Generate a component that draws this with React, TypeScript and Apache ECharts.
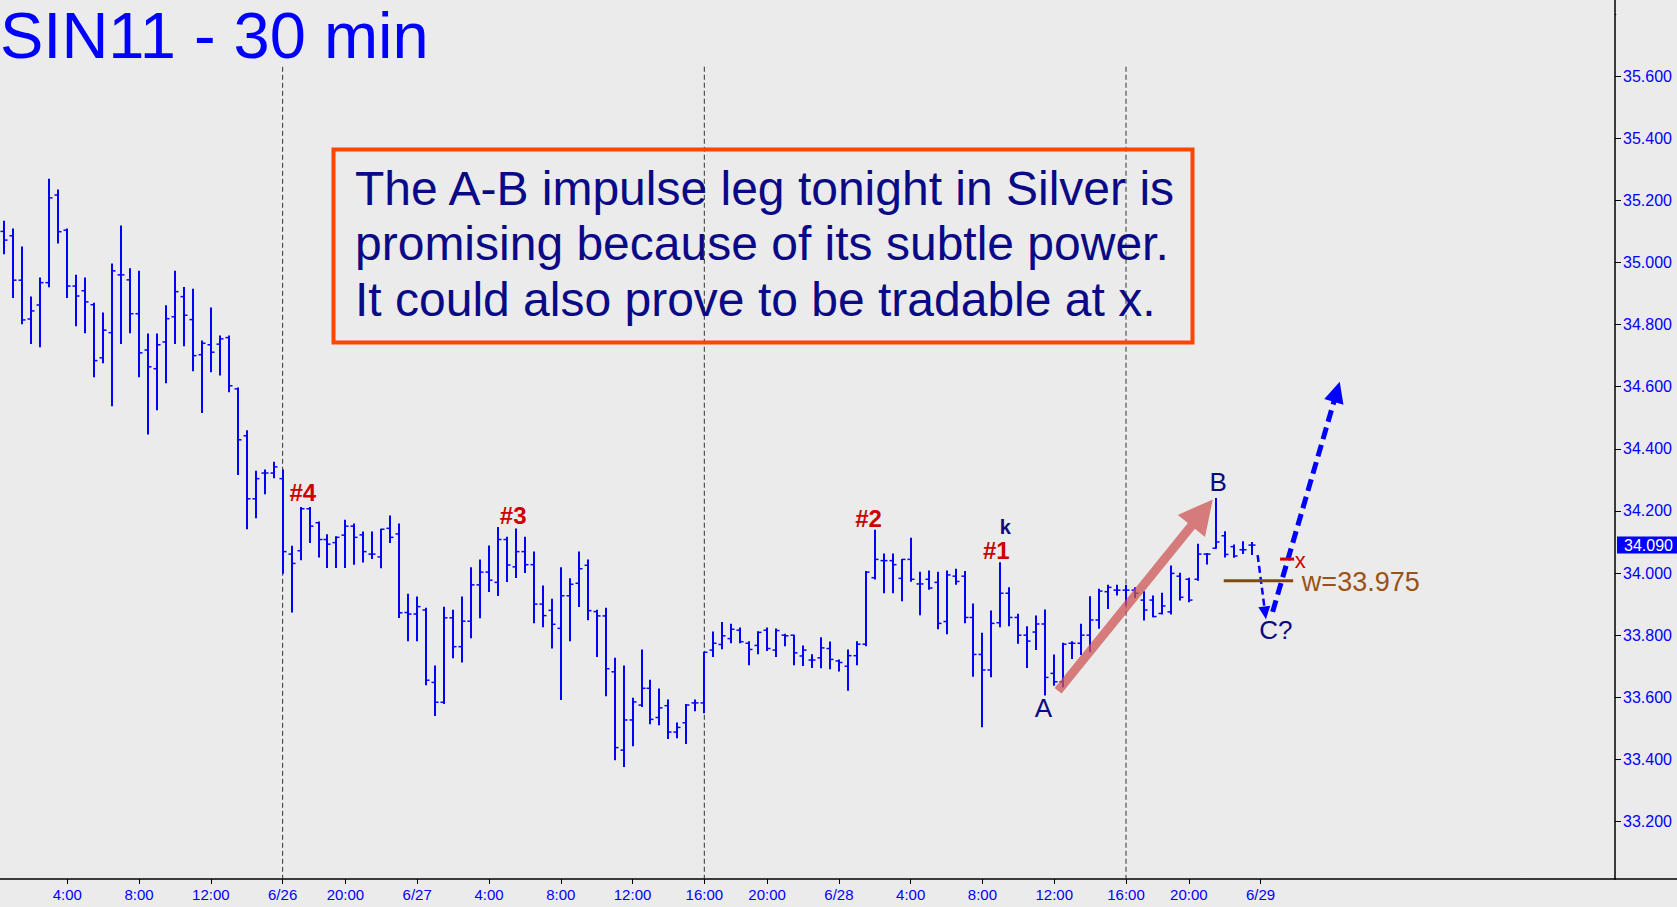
import React, { useEffect, useRef } from 'react';
import * as echarts from 'echarts';

// ---- data (30-min OHLC bars) ----
const opens = [
  35.100, 35.086, 34.943, 34.818, 34.863, 34.935, 35.217, 35.104, 34.924, 34.909,
  34.864, 34.693, 34.774, 34.960, 34.944, 34.835, 34.718, 34.658, 34.744, 34.825,
  34.890, 34.816, 34.703, 34.735, 34.737, 34.758, 34.593, 34.442, 34.239, 34.322,
  34.322, 34.304, 34.061, 34.072, 34.207, 34.162, 34.108, 34.098, 34.122, 34.151,
  34.123, 34.061, 34.052, 34.144, 34.126, 33.873, 33.868, 33.881, 33.648, 33.584,
  33.856, 33.763, 33.845, 33.962, 34.003, 33.970, 34.108, 34.020, 34.069, 34.027,
  33.900, 33.880, 33.822, 33.927, 33.967, 34.025, 33.876, 33.862, 33.682, 33.430,
  33.527, 33.575, 33.629, 33.535, 33.573, 33.488, 33.518, 33.582, 33.582, 33.752,
  33.770, 33.789, 33.816, 33.774, 33.767, 33.816, 33.752, 33.800, 33.800, 33.733,
  33.720, 33.727, 33.757, 33.717, 33.700, 33.734, 33.771, 33.985, 34.040, 34.040,
  33.983, 34.044, 33.965, 33.980, 33.970, 33.844, 33.990, 33.990, 33.857, 33.738,
  33.688, 33.840, 33.935, 33.857, 33.800, 33.810, 33.836, 33.677, 33.650, 33.774,
  33.774, 33.800, 33.849, 33.940, 33.945, 33.945, 33.945, 33.913, 33.913, 33.870,
  33.875, 33.990, 33.980, 33.980, 34.061, 34.080, 34.120, 34.085, 34.075, 34.090
];
const highs = [
  35.133, 35.108, 35.050, 34.889, 34.950, 35.268, 35.233, 35.108, 34.959, 34.950,
  34.869, 34.837, 34.995, 35.117, 34.980, 34.972, 34.770, 34.770, 34.861, 34.972,
  34.919, 34.914, 34.747, 34.853, 34.763, 34.763, 34.596, 34.458, 34.328, 34.332,
  34.357, 34.332, 34.086, 34.211, 34.211, 34.164, 34.123, 34.117, 34.170, 34.158,
  34.132, 34.132, 34.141, 34.184, 34.158, 33.932, 33.923, 33.887, 33.701, 33.890,
  33.880, 33.923, 34.017, 34.042, 34.087, 34.147, 34.115, 34.142, 34.115, 34.068,
  33.958, 33.916, 34.017, 33.982, 34.068, 34.042, 33.880, 33.887, 33.726, 33.701,
  33.597, 33.752, 33.655, 33.627, 33.591, 33.517, 33.577, 33.591, 33.745, 33.810,
  33.841, 33.835, 33.823, 33.779, 33.811, 33.823, 33.820, 33.803, 33.800, 33.765,
  33.737, 33.792, 33.778, 33.720, 33.752, 33.779, 34.005, 34.138, 34.061, 34.061,
  34.044, 34.112, 34.003, 34.007, 34.003, 34.007, 34.012, 34.005, 33.900, 33.806,
  33.878, 34.033, 33.953, 33.867, 33.827, 33.862, 33.881, 33.736, 33.774, 33.779,
  33.835, 33.924, 33.948, 33.961, 33.961, 33.961, 33.953, 33.940, 33.926, 33.935,
  34.023, 33.999, 33.983, 34.093, 34.063, 34.240, 34.133, 34.090, 34.101, 34.098
];
const lows = [
  35.028, 34.887, 34.803, 34.739, 34.729, 34.922, 35.063, 34.887, 34.796, 34.774,
  34.632, 34.677, 34.539, 34.739, 34.774, 34.632, 34.448, 34.526, 34.613, 34.739,
  34.732, 34.651, 34.517, 34.648, 34.638, 34.584, 34.317, 34.143, 34.178, 34.255,
  34.307, 33.999, 33.875, 34.043, 34.098, 34.052, 34.018, 34.018, 34.018, 34.028,
  34.036, 34.047, 34.017, 34.098, 33.857, 33.782, 33.782, 33.640, 33.541, 33.580,
  33.727, 33.714, 33.792, 33.856, 33.941, 33.928, 33.973, 33.986, 34.002, 33.840,
  33.827, 33.759, 33.593, 33.782, 33.892, 33.850, 33.731, 33.605, 33.399, 33.377,
  33.444, 33.570, 33.515, 33.512, 33.467, 33.470, 33.451, 33.557, 33.550, 33.731,
  33.756, 33.776, 33.776, 33.705, 33.740, 33.751, 33.731, 33.766, 33.705, 33.702,
  33.696, 33.695, 33.692, 33.685, 33.623, 33.705, 33.766, 33.981, 33.937, 33.937,
  33.911, 33.974, 33.866, 33.948, 33.821, 33.805, 33.964, 33.840, 33.668, 33.505,
  33.666, 33.827, 33.830, 33.774, 33.696, 33.754, 33.607, 33.639, 33.634, 33.725,
  33.738, 33.747, 33.822, 33.886, 33.929, 33.897, 33.921, 33.849, 33.859, 33.868,
  33.868, 33.913, 33.908, 33.977, 34.029, 34.080, 34.052, 34.051, 34.063, 34.060
];
const closes = [
  35.072, 34.943, 34.815, 34.844, 34.935, 35.208, 35.099, 34.924, 34.892, 34.873,
  34.684, 34.782, 34.973, 34.960, 34.835, 34.709, 34.664, 34.735, 34.819, 34.906,
  34.830, 34.700, 34.740, 34.711, 34.754, 34.603, 34.429, 34.239, 34.304, 34.322,
  34.342, 34.069, 34.031, 34.207, 34.151, 34.108, 34.093, 34.115, 34.151, 34.115,
  34.069, 34.061, 34.141, 34.115, 33.872, 33.868, 33.892, 33.655, 33.584, 33.856,
  33.763, 33.845, 33.962, 34.003, 33.977, 34.108, 34.026, 34.069, 34.027, 33.900,
  33.863, 33.835, 33.927, 33.964, 34.014, 33.879, 33.862, 33.692, 33.438, 33.527,
  33.585, 33.629, 33.529, 33.566, 33.488, 33.503, 33.575, 33.582, 33.745, 33.774,
  33.798, 33.819, 33.779, 33.754, 33.809, 33.757, 33.815, 33.798, 33.743, 33.752,
  33.720, 33.759, 33.722, 33.712, 33.734, 33.771, 34.003, 34.044, 34.040, 34.027,
  34.044, 33.980, 33.965, 33.952, 33.838, 33.994, 33.973, 33.857, 33.738, 33.688,
  33.838, 33.935, 33.857, 33.800, 33.781, 33.836, 33.664, 33.650, 33.771, 33.774,
  33.800, 33.849, 33.942, 33.954, 33.945, 33.945, 33.935, 33.881, 33.860, 33.894,
  33.999, 33.922, 33.913, 34.061, 34.061, 34.100, 34.060, 34.055, 34.075, 34.090
];

const slotCount = 180; // bar slots on the time axis (bars + empty space on the right)
const tickIndex = [7, 15, 23, 31, 38, 46, 54, 62, 70, 78, 85, 93, 101, 109, 117, 125, 132, 140];
const tickLabels = ['4:00', '8:00', '12:00', '6/26', '20:00', '6/27', '4:00', '8:00', '12:00', '16:00', '20:00', '6/28', '4:00', '8:00', '12:00', '16:00', '20:00', '6/29'];
const sessionIndex = [31, 78, 125];
const sessionTop = 35.63;
const yMin = 33.015;
const yMax = 35.845;
const yLabelTop = 35.6; // highest price label shown on the scale

const titleText = 'SIN11 - 30 min';
const noteLines = [
  'The A-B impulse leg tonight in Silver is',
  'promising because of its subtle power.',
  'It could also prove to be tradable at x.',
];

// annotation anchors in [bar index, price]
const countLabels = [
  { text: '#4', at: [33.24, 34.259] },
  { text: '#3', at: [56.7, 34.186] },
  { text: '#2', at: [96.31, 34.177] },
  { text: '#1', at: [110.54, 34.074] },
];
const waveLabels = [
  { text: 'A', at: [115.8, 33.567] },
  { text: 'B', at: [135.26, 34.294] },
  { text: 'C?', at: [141.7, 33.816] },
];
const kLabel = { text: 'k', at: [111.55, 34.148] };
const impulseArrow = { from: [117.43, 33.621], to: [134.67, 34.237] };
const dropArrow = { from: [139.67, 34.058], to: [140.6, 33.851] };
const riseArrow = { from: [141.34, 33.875], to: [148.82, 34.616] };
const entryPrice = 34.045;
const entryTick = [142.17, 143.73];
const entryLabelAt = [144.43, 34.039];
const targetW = 33.975;
const targetLine = [135.89, 143.63];
const targetLabelIdx = 144.6;

const FONT = '"Liberation Sans", Arial, Helvetica, sans-serif';
const BG = '#ebebeb';

function arrowPolygon(a: number[], b: number[], hw: number, hh: number, hl: number) {
  const dx = b[0] - a[0], dy = b[1] - a[1];
  const len = Math.hypot(dx, dy);
  const ux = dx / len, uy = dy / len;
  const nx = -uy, ny = ux;
  const bx = b[0] - ux * hl, by = b[1] - uy * hl;
  return [
    [a[0] + nx * hw, a[1] + ny * hw],
    [bx + nx * hw, by + ny * hw],
    [bx + nx * hh, by + ny * hh],
    [b[0], b[1]],
    [bx - nx * hh, by - ny * hh],
    [bx - nx * hw, by - ny * hw],
    [a[0] - nx * hw, a[1] - ny * hw],
  ];
}

function dashedArrow(a: number[], b: number[], width: number, dash: number[], hh: number, hl: number, color: string) {
  const dx = b[0] - a[0], dy = b[1] - a[1];
  const len = Math.hypot(dx, dy);
  const ux = dx / len, uy = dy / len;
  const nx = -uy, ny = ux;
  const bx = b[0] - ux * hl, by = b[1] - uy * hl;
  return [
    {
      type: 'line', z: 20,
      shape: { x1: a[0], y1: a[1], x2: bx + ux * 2, y2: by + uy * 2 },
      style: { stroke: color, lineWidth: width, lineDash: dash },
    },
    {
      type: 'polygon', z: 20,
      shape: { points: [[b[0], b[1]], [bx + nx * hh, by + ny * hh], [bx - nx * hh, by - ny * hh]] },
      style: { fill: color },
    },
  ];
}

export default function App() {
  const ref = useRef<HTMLDivElement>(null);

  useEffect(() => {
    if (!ref.current) return;
    const chart = echarts.init(ref.current, undefined, { renderer: 'svg' });
    const cats = Array.from({ length: slotCount }, (_, i) => String(i));
    const labelMap: Record<number, string> = {};
    tickIndex.forEach((t, k) => { labelMap[t] = tickLabels[k]; });
    const isTick = (index: number) => labelMap[index] !== undefined;

    const ohlc = opens.map((o, i) => [i, o, highs[i], lows[i], closes[i]]);

    const sessionSeries = sessionIndex.map((idx) => ({
      type: 'line',
      silent: true,
      symbol: 'none',
      data: [[idx, sessionTop], [idx, yMin]],
      lineStyle: { color: '#333', width: 1, type: [5, 3] },
      z: 1,
    }));

    const option: any = {
      animation: false,
      backgroundColor: BG,
      grid: { left: -4, right: 62, top: 0, bottom: 28, containLabel: false },
      xAxis: {
        type: 'category',
        data: cats,
        boundaryGap: true,
        axisLine: { show: true, lineStyle: { color: '#000', width: 1.5 } },
        axisTick: { show: true, interval: (i: number) => isTick(i), alignWithLabel: true, length: 5, lineStyle: { color: '#000', width: 1 } },
        axisLabel: {
          interval: (i: number) => isTick(i),
          formatter: (_v: string, i: number) => labelMap[i] || '',
          color: '#0000ff', fontSize: 15, fontFamily: FONT, margin: 8,
        },
        splitLine: { show: false },
      },
      yAxis: {
        type: 'value',
        position: 'right',
        min: yMin,
        max: yMax,
        splitNumber: 14,
        axisLine: { show: true, lineStyle: { color: '#000', width: 1.5 } },
        axisTick: { show: true, length: 6, lineStyle: { color: '#000', width: 1 } },
        axisLabel: {
          showMinLabel: false, showMaxLabel: false,
          formatter: (v: number) => (Math.abs(v * 5 - Math.round(v * 5)) < 1e-6 && v <= yLabelTop + 1e-6 ? v.toFixed(3) : ''),
          color: '#0000ff', fontSize: 16, fontFamily: FONT, margin: 8,
        },
        splitLine: { show: false },
      },
      series: [
        ...sessionSeries,
        {
          type: 'custom',
          name: 'SIN11',
          data: ohlc,
          encode: { x: 0, y: [1, 2, 3, 4] },
          z: 5,
          renderItem: (_p: any, api: any) => {
            const x = api.value(0);
            const o = api.coord([x, api.value(1)]);
            const h = api.coord([x, api.value(2)]);
            const l = api.coord([x, api.value(3)]);
            const c = api.coord([x, api.value(4)]);
            const px = Math.round(h[0]);
            const stroke = '#0000ff';
            return {
              type: 'group',
              children: [
                { type: 'line', shape: { x1: px, y1: h[1] - 0.5, x2: px, y2: l[1] + 0.5 }, style: { stroke, lineWidth: 2 } },
                { type: 'line', shape: { x1: px - 3.5, y1: o[1], x2: px, y2: o[1] }, style: { stroke, lineWidth: 1.5 } },
                { type: 'line', shape: { x1: px, y1: c[1], x2: px + 3.5, y2: c[1] }, style: { stroke, lineWidth: 1.5 } },
              ],
            };
          },
        },
      ],
    };
    chart.setOption(option);

    const p0 = chart.convertToPixel({ xAxisIndex: 0, yAxisIndex: 0 }, [0, 34]) as number[];
    const p1 = chart.convertToPixel({ xAxisIndex: 0, yAxisIndex: 0 }, [100, 35]) as number[];
    const toPx = (pt: number[]) => [p0[0] + ((p1[0] - p0[0]) * pt[0]) / 100, p0[1] + (p1[1] - p0[1]) * (pt[1] - 34)];

    const g: any[] = [];
    // hide the scale ticks above the highest labelled price
    const topLabelY = toPx([0, yLabelTop])[1];
    g.push({ type: 'rect', z: 50, shape: { x: 1616.2, y: 0, width: 10, height: topLabelY - 20 }, style: { fill: BG } });
    // title
    g.push({
      type: 'text', x: 0, y: 35, z: 30,
      style: { text: titleText, fill: '#0000ff', fontSize: 65, fontFamily: FONT, align: 'left', verticalAlign: 'middle', textAlign: 'left', textVerticalAlign: 'middle' },
    });
    // note box
    g.push({
      type: 'rect', z: 30,
      shape: { x: 333.5, y: 149.6, width: 859, height: 193 },
      style: { fill: 'none', stroke: '#ff4500', lineWidth: 4 },
    });
    const lineY = [188, 243.5, 299];
    noteLines.forEach((t, k) => {
      g.push({
        type: 'text', x: 355, y: lineY[k], z: 30,
        style: { text: t, fill: '#0a0a86', fontSize: 48, fontFamily: FONT, align: 'left', verticalAlign: 'middle', textAlign: 'left', textVerticalAlign: 'middle' },
      });
    });
    // x axis line extension below the price scale
    const bottomY = toPx([0, yMin])[1];
    g.push({ type: 'line', z: 30, shape: { x1: 1615, y1: bottomY, x2: 1677, y2: bottomY }, style: { stroke: '#000', lineWidth: 1.5 } });

    // pink impulse arrow
    const ia = toPx(impulseArrow.from), ib = toPx(impulseArrow.to);
    g.push({ type: 'polygon', z: 20, shape: { points: arrowPolygon(ia, ib, 4.5, 17.5, 34) }, style: { fill: 'rgba(205,85,85,0.75)' } });

    // projection arrows
    g.push(...dashedArrow(toPx(dropArrow.from), toPx(dropArrow.to), 2.5, [7, 4], 6, 13, '#0000ff'));
    g.push(...dashedArrow(toPx(riseArrow.from), toPx(riseArrow.to), 5, [12, 6], 10, 21, '#0000ff'));

    // w target line and label
    const w1 = toPx([targetLine[0], targetW]), w2 = toPx([targetLine[1], targetW]);
    g.push({ type: 'line', z: 20, shape: { x1: w1[0], y1: w1[1], x2: w2[0], y2: w2[1] }, style: { stroke: '#8b4513', lineWidth: 3 } });
    const wl = toPx([targetLabelIdx, targetW - 0.004]);
    g.push({
      type: 'text', x: wl[0], y: wl[1], z: 20,
      style: { text: 'w=' + targetW.toFixed(3), fill: '#9c5214', fontSize: 27, fontFamily: FONT, align: 'left', verticalAlign: 'middle', textAlign: 'left', textVerticalAlign: 'middle' },
    });
    // entry x
    const e1 = toPx([entryTick[0], entryPrice]), e2 = toPx([entryTick[1], entryPrice]);
    g.push({ type: 'line', z: 21, shape: { x1: e1[0], y1: e1[1], x2: e2[0], y2: e2[1] }, style: { stroke: '#cc0000', lineWidth: 3 } });
    const ex = toPx(entryLabelAt);
    g.push({
      type: 'text', x: ex[0], y: ex[1], z: 21,
      style: { text: 'x', fill: '#cc0000', fontSize: 22, fontFamily: FONT, align: 'center', verticalAlign: 'middle', textAlign: 'center', textVerticalAlign: 'middle' },
    });

    // count labels
    countLabels.forEach((c) => {
      const p = toPx(c.at);
      g.push({
        type: 'text', x: p[0], y: p[1], z: 22,
        style: { text: c.text, fill: '#cc0000', fontSize: 24, fontWeight: 'bold', fontFamily: FONT, align: 'center', verticalAlign: 'middle', textAlign: 'center', textVerticalAlign: 'middle' },
      });
    });
    waveLabels.forEach((c) => {
      const p = toPx(c.at);
      g.push({
        type: 'text', x: p[0], y: p[1], z: 22,
        style: { text: c.text, fill: '#0a0a80', fontSize: 26, fontFamily: FONT, align: 'center', verticalAlign: 'middle', textAlign: 'center', textVerticalAlign: 'middle' },
      });
    });
    const kp = toPx(kLabel.at);
    g.push({
      type: 'text', x: kp[0], y: kp[1], z: 22,
      style: { text: kLabel.text, fill: '#0a0a80', fontSize: 20, fontWeight: 'bold', fontFamily: FONT, align: 'center', verticalAlign: 'middle', textAlign: 'center', textVerticalAlign: 'middle' },
    });

    // last price tag on the scale
    const last = closes[closes.length - 1];
    const lp = toPx([0, last]);
    g.push({ type: 'rect', z: 40, shape: { x: 1617, y: lp[1] - 8.5, width: 60, height: 17 }, style: { fill: '#0000ff' } });
    g.push({
      type: 'text', x: 1624, y: lp[1], z: 41,
      style: { text: last.toFixed(3), fill: '#ffffff', fontSize: 16, fontFamily: FONT, align: 'left', verticalAlign: 'middle', textAlign: 'left', textVerticalAlign: 'middle' },
    });

    chart.setOption({ graphic: { elements: g } });

    return () => chart.dispose();
  }, []);

  return <div ref={ref} style={{ position: 'fixed', left: 0, top: 0, width: 1677, height: 907 }} />;
}
